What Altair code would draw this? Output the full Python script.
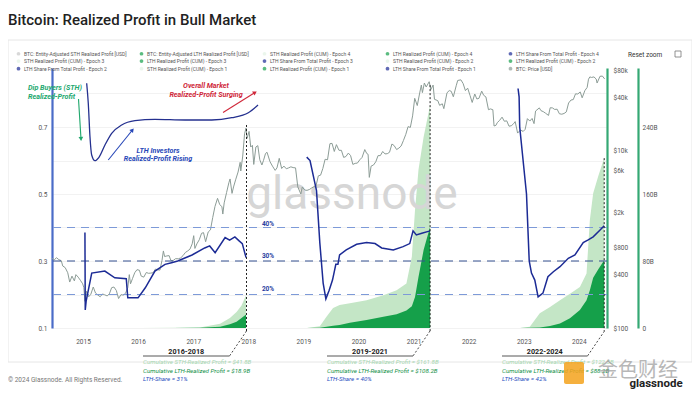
import math
import altair as alt
import pandas as pd

# ------------------------------------------------------------------ data
price_dates = [
    "2014-06-10","2014-06-25","2014-07-10","2014-07-25","2014-08-10","2014-08-20","2014-09-05","2014-09-22",
    "2014-10-05","2014-10-20","2014-11-05","2014-11-15","2014-11-30","2014-12-15","2014-12-30",
    "2015-01-07","2015-01-14","2015-01-25","2015-02-08","2015-02-22","2015-03-10","2015-03-25","2015-04-10",
    "2015-04-25","2015-05-10","2015-05-25","2015-06-10","2015-06-25","2015-07-10","2015-07-25","2015-08-10",
    "2015-08-25","2015-09-10","2015-09-25","2015-10-10","2015-10-25","2015-11-04","2015-11-12","2015-11-25",
    "2015-12-10","2015-12-25",
    "2016-01-10","2016-01-22","2016-02-08","2016-02-25","2016-03-10","2016-03-25","2016-04-10","2016-04-25",
    "2016-05-10","2016-05-25","2016-06-08","2016-06-17","2016-06-25","2016-07-10","2016-07-25","2016-08-05",
    "2016-08-20","2016-09-05","2016-09-25","2016-10-10","2016-10-25","2016-11-10","2016-11-25","2016-12-10",
    "2016-12-25",
    "2017-01-04","2017-01-12","2017-01-25","2017-02-10","2017-02-25","2017-03-10","2017-03-24","2017-04-10",
    "2017-04-25","2017-05-10","2017-05-25","2017-06-11","2017-06-25","2017-07-10","2017-07-16","2017-07-25",
    "2017-08-10","2017-08-25","2017-09-02","2017-09-15","2017-09-25","2017-10-10","2017-10-25","2017-11-08",
    "2017-11-12","2017-11-25","2017-12-07","2017-12-17","2017-12-24",
    "2018-01-06","2018-01-17","2018-01-28","2018-02-06","2018-02-20","2018-03-05","2018-03-18","2018-04-01",
    "2018-04-12","2018-04-25","2018-05-05","2018-05-25","2018-06-10","2018-06-28","2018-07-10","2018-07-25",
    "2018-08-10","2018-08-25","2018-09-10","2018-09-25","2018-10-10","2018-10-25","2018-11-10","2018-11-25",
    "2018-12-15","2018-12-25",
    "2019-01-10","2019-01-25","2019-02-10","2019-02-25","2019-03-10","2019-03-25","2019-04-10","2019-04-25",
    "2019-05-10","2019-05-25","2019-06-10","2019-06-26","2019-07-10","2019-07-25","2019-08-08","2019-08-25",
    "2019-09-10","2019-09-25","2019-10-10","2019-10-26","2019-11-10","2019-11-25","2019-12-10","2019-12-25",
    "2020-01-10","2020-01-25","2020-02-12","2020-02-25","2020-03-05","2020-03-13","2020-03-25","2020-04-10",
    "2020-04-25","2020-05-10","2020-05-25","2020-06-10","2020-06-25","2020-07-10","2020-07-25","2020-08-10",
    "2020-08-25","2020-09-10","2020-09-25","2020-10-10","2020-10-25","2020-11-10","2020-11-25","2020-12-10",
    "2020-12-25",
    "2021-01-08","2021-01-25","2021-02-10","2021-02-21","2021-02-28","2021-03-13","2021-03-25","2021-04-14",
    "2021-04-25","2021-05-10","2021-05-19","2021-06-10","2021-06-22","2021-07-10","2021-07-20","2021-08-10",
    "2021-08-25","2021-09-07","2021-09-21","2021-10-10","2021-10-20","2021-11-10","2021-11-25","2021-12-10",
    "2021-12-25",
    "2022-01-10","2022-01-24","2022-02-10","2022-02-24","2022-03-10","2022-03-28","2022-04-10","2022-04-25",
    "2022-05-12","2022-05-25","2022-06-10","2022-06-18","2022-06-30","2022-07-10","2022-07-25","2022-08-10",
    "2022-08-25","2022-09-10","2022-09-25","2022-10-10","2022-10-25","2022-11-05","2022-11-21","2022-12-10",
    "2022-12-28",
    "2023-01-10","2023-01-25","2023-02-10","2023-02-25","2023-03-10","2023-03-20","2023-04-14","2023-04-25",
    "2023-05-10","2023-05-25","2023-06-14","2023-06-25","2023-07-10","2023-07-25","2023-08-10","2023-08-25",
    "2023-09-10","2023-09-25","2023-10-10","2023-10-25","2023-11-10","2023-11-25","2023-12-10","2023-12-25",
    "2024-01-10","2024-01-23","2024-02-10","2024-02-25","2024-03-05","2024-03-14","2024-03-25","2024-04-10",
    "2024-04-25","2024-05-01","2024-05-20","2024-06-05","2024-06-20",
]
price_usd = [
    610,590,620,590,575,500,480,420,330,385,340,400,375,345,315,
    285,200,260,225,240,290,248,235,225,242,237,230,243,285,290,265,215,238,235,246,285,400,315,360,420,455,
    448,385,375,423,414,416,420,462,454,450,580,740,640,650,655,580,575,605,604,618,655,712,740,775,890,
    1100,790,890,990,1170,1190,940,1210,1280,1760,2350,2900,2480,2330,1930,2580,3380,4350,4800,3300,3900,
    4770,5740,7400,5900,8700,15500,18000,13800,
    16500,11000,11500,7000,11000,11400,7900,6900,7800,9300,9600,7500,6700,6000,6400,8200,6300,6700,6250,
    6400,6580,6450,6400,3900,3250,3900,
    3600,3570,3650,3800,3900,3950,5200,5300,6300,8000,7900,12000,12100,9800,11700,10100,10100,8400,8600,
    9400,8800,7000,7200,7250,
    7900,8400,10300,9300,9100,5000,6700,6900,7500,8800,8800,9800,9200,9250,9600,11900,11400,10300,10700,
    11300,13000,15300,18700,18300,24700,
    39000,32300,44800,55000,45200,58000,52300,60000,49000,55000,38000,36700,32500,33800,29800,45000,47700,
    46800,40600,54000,62000,63000,57200,47600,50800,
    41800,35000,43600,38300,39000,47000,42200,40400,29000,29600,29000,19000,19300,20800,22000,23900,21500,
    21700,18900,19100,20100,21300,15800,17100,16500,
    17400,23000,21600,23100,20200,28000,30400,28300,27600,26500,25000,30500,30400,29200,29400,26100,25800,
    26300,27400,34500,37300,37700,43800,43600,
    46000,39500,47700,51700,64000,68000,67000,68000,64300,58000,69000,69500,64500,
]

# LTH share from total profit, per epoch
e1_share_dates = ["2015-01-14","2015-01-16","2015-01-22","2015-02-28","2015-05-26","2015-07-31","2015-10-15",
                  "2015-10-25","2016-01-01","2016-02-18","2016-04-22","2016-06-28","2016-08-10","2016-09-20",
                  "2016-12-24","2017-03-18","2017-04-20","2017-05-26","2017-07-31","2017-08-30","2017-10-04",
                  "2017-11-01","2017-11-22","2017-12-17"]
e1_share = [0.385,0.154,0.18,0.264,0.27,0.25,0.247,0.19,0.19,0.22,0.27,0.29,0.295,0.30,0.318,0.339,0.345,
            0.325,0.37,0.362,0.372,0.36,0.352,0.31]

e2_share_dates = ["2019-01-23","2019-02-14","2019-03-29","2019-04-20","2019-05-12","2019-05-30","2019-06-21",
                  "2019-07-13","2019-07-27","2019-08-04","2019-08-18","2019-08-29","2019-10-12","2019-12-20",
                  "2020-02-24","2020-04-20","2020-06-03","2020-08-19","2020-10-23","2020-12-06","2020-12-28",
                  "2021-01-19","2021-02-24","2021-04-20"]
e2_share = [0.61,0.60,0.51,0.354,0.234,0.187,0.213,0.243,0.273,0.29,0.29,0.318,0.333,0.35,0.355,0.352,0.339,
            0.333,0.343,0.352,0.39,0.378,0.383,0.39]

e3_share_dates = ["2022-11-24","2022-12-01","2022-12-05","2023-01-19","2023-02-06","2023-02-21","2023-03-15",
                  "2023-04-06","2023-05-08","2023-06-10","2023-07-16","2023-08-29","2023-10-23","2023-12-06",
                  "2024-01-30","2024-03-03","2024-04-05","2024-05-19","2024-06-17"]
e3_share = [0.815,0.79,0.70,0.50,0.30,0.264,0.243,0.193,0.204,0.253,0.268,0.283,0.308,0.318,0.355,0.363,0.372,
            0.392,0.405]

# cumulative realized profit (USD billions), per epoch
e1_cum_dates = ["2015-01-14","2016-01-15","2016-08-20","2017-02-14","2017-06-28","2017-09-01","2017-10-15",
                "2017-11-17","2017-12-17"]
e1_sth_cum = [0, 0.05, 0.2, 0.5, 5, 12, 19, 27, 39]
e1_lth_cum = [0, 0.02, 0.1, 0.4, 1.5, 4.4, 7.5, 12, 16]

e2_cum_dates = ["2019-01-23","2019-04-20","2019-06-03","2019-07-17","2019-08-29","2019-11-05","2020-02-24",
                "2020-06-14","2020-09-10","2020-11-14","2020-12-20","2021-01-10","2021-02-02","2021-03-08",
                "2021-04-20"]
e2_sth_cum = [0, 2, 13.5, 24, 27.5, 29.5, 33, 39, 45, 53, 85, 141, 189, 228, 266]
e2_lth_cum = [0, 0.3, 1.5, 2.8, 3.6, 6.3, 9.5, 13.5, 16.5, 21, 26, 37, 61, 93, 121]

e3_cum_dates = ["2022-11-24","2022-12-05","2023-02-10","2023-04-17","2023-06-24","2023-08-29","2023-11-03",
                "2024-01-08","2024-02-21","2024-03-14","2024-04-05","2024-05-08","2024-06-17"]
e3_sth_cum = [0, 0, 1.6, 17.5, 25, 33, 41, 49, 65, 129, 161, 181, 203]
e3_lth_cum = [0, 0, 0.3, 0.6, 2.5, 5.5, 11.6, 21.5, 33, 45, 60, 70, 81]

epoch_end_dates = ["2017-12-20", "2021-04-20", "2024-06-17"]
epoch_end_top = [0.706, 0.825, 0.607]

share_levels = [0.4, 0.3, 0.2]
share_level_labels = ["40%", "30%", "20%"]

periods = ["2016-2018", "2019-2021", "2022-2024"]
sth_totals = ["$41.8B", "$161.8B", "$122.5B"]
lth_totals = ["$18.9B", "$108.2B", "$88.2B"]
lth_share_totals = ["31%", "40%", "42%"]

legend_labels = [
    "BTC: Entity-Adjusted STH Realized Profit [USD]",
    "BTC: Entity-Adjusted LTH Realized Profit [USD]",
    "STH Realized Profit (CUM) - Epoch 4",
    "LTH Realized Profit (CUM) - Epoch 4",
    "LTH Share From Total Profit - Epoch 4",
    "STH Realized Profit (CUM) - Epoch 3",
    "LTH Realized Profit (CUM) - Epoch 3",
    "LTH Share From Total Profit - Epoch 3",
    "STH Realized Profit (CUM) - Epoch 2",
    "LTH Realized Profit (CUM) - Epoch 2",
    "LTH Share From Total Profit - Epoch 2",
    "STH Realized Profit (CUM) - Epoch 1",
    "LTH Realized Profit (CUM) - Epoch 1",
    "LTH Share From Total Profit - Epoch 1",
    "BTC: Price [USD]",
]

# ------------------------------------------------------------------ styles
NAVY = "#1c2b95"
DARKG = "#15a04a"
LIGHTG = "#c4e6c6"
PALEG = "#e2f2e4"
PRICE = "#8c9c96"
AXG = "#35a874"
legend_colors = ["#c8c8c8", DARKG, PALEG, DARKG, NAVY, PALEG, DARKG, NAVY, PALEG, DARKG, NAVY,
                 PALEG, DARKG, NAVY, PRICE]
FONT = "Roboto"

# plot area in page pixels
PL, PT, PW, PH = 52, 68, 555, 260


def px2date(px):
    yr = 2015 + (px - 83) / 55.1
    y = int(math.floor(yr))
    s = pd.Timestamp(year=y, month=1, day=1)
    e = pd.Timestamp(year=y + 1, month=1, day=1)
    return s + (e - s) * (yr - y)


def py2share(py):
    return 0.1 + (328 - py) / 335.0


def dt(ts):
    return alt.DateTime(year=ts.year, month=ts.month, date=ts.day, hours=ts.hour)


X_DOM = [dt(px2date(PL)), dt(px2date(PL + PW))]
SHARE_DOM = [0.1, 0.1 + PH / 335.0]
PRICE_DOM = [100, 10 ** (2 + PH / 88.65)]
CUM_DOM = [0, 80 * PH / 67.0]

X_AXIS = alt.Axis(format="%Y", tickCount={"interval": "year", "step": 1}, labelFontSize=6.5,
                  labelColor="#555", labelFont=FONT, ticks=False, domain=False, grid=False,
                  labelPadding=10, title=None)


def X(field="date"):
    return alt.X(f"{field}:T", scale=alt.Scale(domain=X_DOM), axis=X_AXIS, title=None)


def YS(field="v", axis=None):
    return alt.Y(f"{field}:Q", scale=alt.Scale(domain=SHARE_DOM, nice=False, zero=False), axis=axis, title=None)


dummy = pd.DataFrame({"a": [0]})


def txt(text, px, py, size=6.5, color="#555", weight="normal", style="normal", align="left",
        baseline="middle", opacity=1.0, font=FONT):
    return alt.Chart(dummy).mark_text(
        align=align, baseline=baseline, fontSize=size, font=font, fontWeight=weight,
        fontStyle=style, color=color, opacity=opacity
    ).encode(x=alt.value(px - PL), y=alt.value(py - PT), text=alt.value(text))


def seg(px1, py1, px2, py2, color="#333", width=1.0, dash=None):
    kw = dict(color=color, strokeWidth=width)
    if dash:
        kw["strokeDash"] = dash
    return alt.Chart(dummy).mark_rule(**kw).encode(
        x=alt.value(px1 - PL), y=alt.value(py1 - PT), x2=alt.value(px2 - PL), y2=alt.value(py2 - PT))


# ------------------------------------------------------------------ frames
price_df = pd.DataFrame({"date": pd.to_datetime(price_dates), "price": price_usd})

share_rows = []
for ep, ds, vs in [("E1", e1_share_dates, e1_share), ("E2", e2_share_dates, e2_share),
                   ("E3", e3_share_dates, e3_share)]:
    for d, v in zip(ds, vs):
        share_rows.append({"date": pd.Timestamp(d), "v": v, "epoch": ep})
share_df = pd.DataFrame(share_rows)

cum_rows = []
for ep, ds, sth, lth in [("E1", e1_cum_dates, e1_sth_cum, e1_lth_cum),
                         ("E2", e2_cum_dates, e2_sth_cum, e2_lth_cum),
                         ("E3", e3_cum_dates, e3_sth_cum, e3_lth_cum)]:
    for d, s, l in zip(ds, sth, lth):
        cum_rows.append({"date": pd.Timestamp(d), "sth": s, "lth": l, "epoch": ep})
cum_df = pd.DataFrame(cum_rows)

epoch_df = pd.DataFrame({"date": pd.to_datetime(epoch_end_dates), "top": epoch_end_top})
levels_df = pd.DataFrame({"v": share_levels, "lab": share_level_labels})
legend_df = pd.DataFrame({"series": legend_labels})

# ------------------------------------------------------------------ layers
frame = alt.Chart(dummy).mark_rect(filled=False, stroke="#e6e6e6", strokeWidth=1).encode(
    x=alt.value(8 - PL), x2=alt.value(692 - PL), y=alt.value(40 - PT), y2=alt.value(362 - PT))

cum_scale = alt.Scale(domain=CUM_DOM, nice=False, zero=True)
cum_axis = alt.Axis(orient="right", offset=31, values=[0, 80, 160, 240],
                    labelExpr="datum.value == 0 ? '0' : datum.value + 'B'",
                    domainColor=AXG, domainWidth=2.2, ticks=False, grid=False,
                    labelFontSize=6.5, labelColor="#555", labelFont=FONT, labelPadding=4)
sth_area = alt.Chart(cum_df).mark_area(color=LIGHTG, opacity=1).encode(
    x=X(), y=alt.Y("sth:Q", scale=cum_scale, axis=cum_axis, title=None, stack=None), detail="epoch:N")
lth_area = alt.Chart(cum_df).mark_area(color=DARKG, opacity=1).encode(
    x=X(), y=alt.Y("lth:Q", scale=cum_scale, axis=None, title=None, stack=None), detail="epoch:N")

watermark = txt("glassnode", 352, 195, size=46, color="#d6d6d6", align="center")

price_axis = alt.Axis(orient="right", values=[100, 400, 800, 2000, 6000, 10000, 40000, 80000],
                      labelExpr="datum.value >= 1000 ? '$' + (datum.value/1000) + 'k' : '$' + datum.value",
                      domainColor=AXG, domainWidth=2.2, ticks=False, grid=False,
                      labelFontSize=6.5, labelColor="#555", labelFont=FONT, labelPadding=6)
price_line = alt.Chart(price_df).mark_line(color=PRICE, strokeWidth=1).encode(
    x=X(),
    y=alt.Y("price:Q", scale=alt.Scale(type="log", domain=PRICE_DOM, nice=False), axis=price_axis, title=None))

share_axis = alt.Axis(orient="left", values=[0.1, 0.2, 0.3, 0.4, 0.5, 0.6, 0.7, 0.8],
                      labelExpr="(round(datum.value*10) % 2 == 1) ? format(datum.value, '.1f') : ''",
                      domainColor="#4a6cc8", domainWidth=2.2, ticks=False, grid=True,
                      gridColor="#ededed", gridWidth=0.7,
                      labelFontSize=6.5, labelColor="#555", labelFont=FONT, labelPadding=5)

legend_layer = alt.Chart(legend_df).mark_point(filled=True, size=14).encode(
    x=alt.value(-2000), y=alt.value(-2000),
    color=alt.Color("series:N", scale=alt.Scale(domain=legend_labels, range=legend_colors),
                    legend=alt.Legend(orient="none", legendX=-36, legendY=-17, columns=5, title=None,
                                      direction="horizontal", gridAlign="all", columnPadding=12,
                                      rowPadding=1.6, labelFontSize=5, labelFont=FONT,
                                      labelColor="#555", symbolSize=14, symbolType="circle",
                                      labelLimit=120, padding=0, labelOffset=3,
                                      symbolStrokeWidth=0)))

grid_layer = alt.Chart(levels_df).mark_rule(opacity=0).encode(y=YS(axis=share_axis))

dash_light = alt.Chart(levels_df[levels_df["v"] != 0.3]).mark_rule(
    color="#7d9ad8", strokeWidth=1.1, strokeDash=[8, 6]).encode(y=YS())
dash_dark = alt.Chart(levels_df[levels_df["v"] == 0.3]).mark_rule(
    color="#34508f", strokeWidth=1.1, strokeDash=[8, 6]).encode(y=YS())

share_line = alt.Chart(share_df).mark_line(color=NAVY, strokeWidth=1.5).encode(
    x=X(), y=YS(), detail="epoch:N")

epoch_rules = alt.Chart(epoch_df).mark_rule(color="#222", strokeWidth=1, strokeDash=[2, 2]).encode(
    x=X(), y=YS("top"), y2=alt.value(PH + 3))

# hand-drawn illustration curve (page coordinates converted to chart coordinates)
curve_px = [86.7, 88.3, 90, 91.7, 95, 99, 105, 111.7, 121.7, 135, 155, 185, 211.7, 231.7, 248.3, 258]
curve_py = [83.3, 103.3, 136.7, 155, 160.7, 157.3, 145, 133.3, 125, 120.7, 119.3, 120, 120, 117.7, 112.7, 105]
curve_df = pd.DataFrame({"date": [px2date(p) for p in curve_px], "v": [py2share(p) for p in curve_py],
                         "i": list(range(len(curve_px)))})
curve = alt.Chart(curve_df).mark_line(color="#24308f", strokeWidth=1.3, interpolate="monotone").encode(
    x=X(), y=YS(), order="i:Q")


def arrow(px1, py1, px2, py2, color):
    d = pd.DataFrame({"date": [px2date(px1), px2date(px2)], "v": [py2share(py1), py2share(py2)]})
    ang = math.degrees(math.atan2(px2 - px1, -(py2 - py1))) % 360
    line = alt.Chart(d).mark_line(color=color, strokeWidth=1.1).encode(x=X(), y=YS())
    head = alt.Chart(d.iloc[[1]]).mark_point(shape="triangle-up", filled=True, size=22, color=color,
                                              opacity=1, angle=ang).encode(x=X(), y=YS())
    return [line, head]


GREEN_T = "#22a86e"
RED_T = "#d0283a"
BLUE_T = "#2747b8"

annot = []
annot += arrow(78.5, 99, 81, 139, GREEN_T)
annot += arrow(108.3, 160, 132.5, 130, BLUE_T)
annot += arrow(223, 112.5, 255, 92.5, RED_T)
annot += [
    txt("Dip Buyers (STH)", 28, 88, size=7.2, color=GREEN_T, weight="bold", style="italic"),
    txt("Realized-Profit", 28, 97, size=7.2, color=GREEN_T, weight="bold", style="italic"),
    txt("Overall Market", 206, 86, size=7.2, color=RED_T, weight="bold", style="italic", align="center"),
    txt("Realized-Profit Surging", 206, 95, size=7.2, color=RED_T, weight="bold", style="italic", align="center"),
    txt("LTH Investors", 158, 151, size=7.2, color=BLUE_T, weight="bold", style="italic", align="center"),
    txt("Realized-Profit Rising", 158, 159, size=7.2, color=BLUE_T, weight="bold", style="italic", align="center"),
]
for lab, py in zip(share_level_labels, [224, 256, 289]):
    annot.append(txt(lab, 268, py, size=6.5, color="#2a3ea0", weight="bold", align="center"))

# period blocks below the axis
block_x = [143, 327, 502]
end_x = [246.5, 430, 604.5]
for i in range(3):
    annot.append(seg(end_x[i], 331, end_x[i] - 17, 356, color="#333", width=0.9, dash=[2, 2]))
    annot.append(seg(block_x[i], 356, end_x[i] - 17, 356, color="#444", width=0.9))
    annot.append(txt(periods[i], (block_x[i] + end_x[i] - 17) / 2, 352.3, size=7.2, color="#222",
                     weight="bold", align="center"))
    annot.append(txt("Cumulative STH-Realized Profit = " + sth_totals[i], block_x[i], 362, size=6.2,
                     color="#a6d6b0", style="italic"))
    annot.append(txt("Cumulative LTH-Realized Profit   = " + lth_totals[i], block_x[i], 370.5, size=6.2,
                     color="#14914a", style="italic"))
    annot.append(txt("LTH-Share = " + lth_share_totals[i], block_x[i], 379, size=6.2, color="#2a4fc0",
                     style="italic"))

deco = [
    txt("Bitcoin: Realized Profit in Bull Market", 8, 25, size=15, color="#222", weight=500,
        baseline="alphabetic"),
    txt("Reset zoom", 628, 54.5, size=6.5, color="#333"),
    alt.Chart(dummy).mark_rect(filled=False, stroke="#777", strokeWidth=0.8).encode(
        x=alt.value(675 - PL), x2=alt.value(681 - PL), y=alt.value(51 - PT), y2=alt.value(57 - PT)),
    txt("© 2024 Glassnode. All Rights Reserved.", 8, 380, size=6.5, color="#777"),
    alt.Chart(dummy).mark_rect(fill="#f3a21c", opacity=0.85, cornerRadius=2).encode(
        x=alt.value(564 - PL), x2=alt.value(584 - PL), y=alt.value(362 - PT), y2=alt.value(384 - PT)),
    txt("金色财经", 638, 371, size=20, color="#9a9a9a", align="center", opacity=0.7,
        font="Noto Sans CJK SC"),
    txt("glassnode", 656, 384, size=11.5, color="#222", weight="bold", align="center"),
]

chart = alt.layer(
    frame, sth_area, lth_area, watermark, grid_layer, price_line, dash_light, dash_dark, share_line,
    epoch_rules, curve, legend_layer, *annot, *deco
).resolve_scale(y="independent").properties(
    width=PW, height=PH,
    autosize=alt.AutoSizeParams(type="none"),
    padding={"left": 44, "top": 60, "right": 85, "bottom": 61},
    background="white",
).configure_view(strokeWidth=0)

chart.save("out.html", embed_options={"renderer": "svg", "actions": False})
